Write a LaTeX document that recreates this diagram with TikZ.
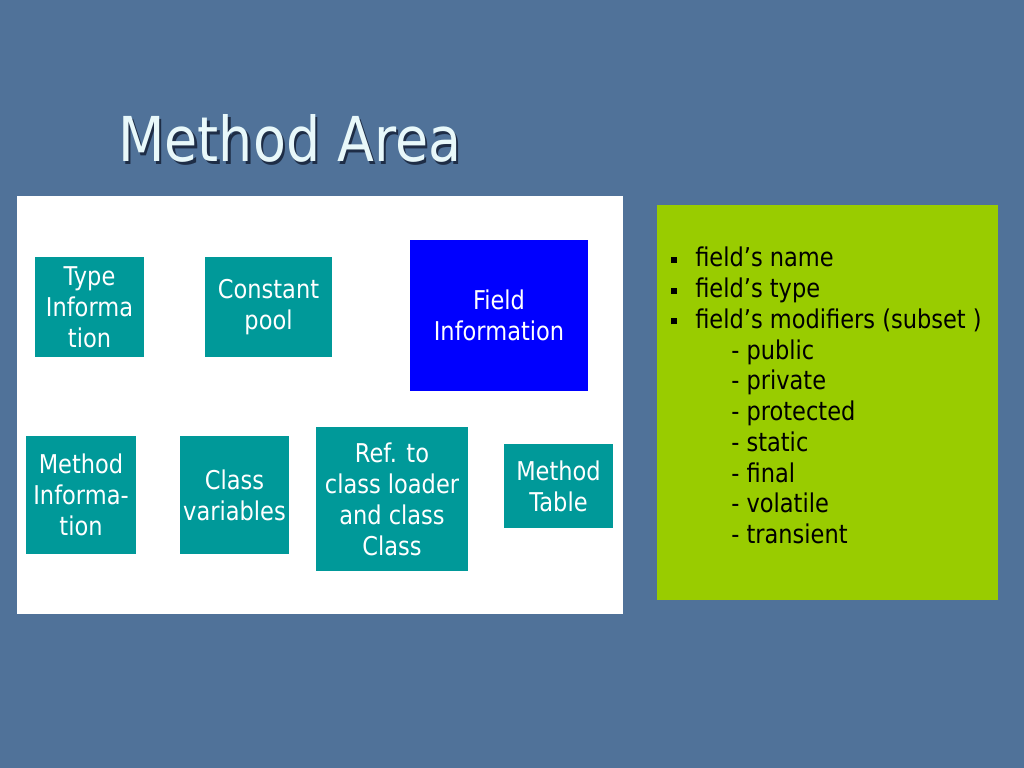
\documentclass[tikz,border=0pt]{standalone}
\usepackage{fontspec}
\setmainfont{DejaVu Sans}[FakeStretch=0.87]
\definecolor{slide bg}{RGB}{80,114,153}
\definecolor{box teal}{RGB}{0,153,153}
\definecolor{box blue}{RGB}{0,0,255}
\definecolor{panel green}{RGB}{153,204,0}
\definecolor{title ink}{RGB}{232,248,250}
\definecolor{title shade}{RGB}{30,45,70}
\def\px{0.025cm}
\def\sq{\makebox[0.6cm][l]{\raisebox{0.1cm}{\rule{0.15cm}{0.15cm}}}}
\def\sub{\hspace*{1.5cm}- }
\tikzset{area/.style={fill=box teal, text=white, align=center, inner sep=0pt,
    font=\fontsize{18.4}{22}\selectfont},
  fieldarea/.style={area, fill=box blue},
  listtext/.style={align=left, inner sep=0pt, text=black,
    font=\fontsize{18.4}{21.85}\selectfont}}

\begin{document}
\begin{tikzpicture}[x=\px, y=-\px]
  \fill[slide bg] (0,0) rectangle (1024,768);
  \useasboundingbox (0,0) rectangle (1024,768);
  % title with its shadow
  \node[anchor=base west, inner sep=0pt, text=title shade,
    font=\fontsize{44}{50}\selectfont] (titleshadow) at (120.5,164.5) {Method Area};
  \node[anchor=base west, inner sep=0pt, text=title ink,
    font=\fontsize{44}{50}\selectfont] (title) at (118,162) {Method Area};
  % the two panels
  \fill[white] (17,196) rectangle (623,614);
  \fill[panel green] (657,205) rectangle (998,600);
  % parts of the method area
  \node[area, minimum width=109*\px, minimum height=100*\px] (type) at (89.5,307)
    {Type\\Informa\\tion};
  \node[area, minimum width=127*\px, minimum height=100*\px] (const) at (268.5,307)
    {Constant\\pool};
  \node[fieldarea, minimum width=178*\px, minimum height=151*\px] (field) at (499,315.5)
    {Field\\Information};
  \node[area, minimum width=110*\px, minimum height=118*\px] (methinfo) at (81,495)
    {Method\\Informa-\\tion};
  \node[area, minimum width=109*\px, minimum height=118*\px] (classvar) at (234.5,495)
    {Class\\variables};
  \node[area, minimum width=152*\px, minimum height=144*\px] (loaderref) at (392,499)
    {Ref. to\\class loader\\and class\\Class};
  \node[area, minimum width=109*\px, minimum height=84*\px] (methtable) at (558.5,486)
    {Method\\Table};
  % what the field information holds
  \node[listtext, anchor=north west] (fieldlist) at (671,247)
    {\sq field’s name\\
     \sq field’s type\\
     \sq field’s modifiers (subset )\\
     \sub public\\
     \sub private\\
     \sub protected\\
     \sub static\\
     \sub final\\
     \sub volatile\\
     \sub transient};
\end{tikzpicture}
\end{document}
